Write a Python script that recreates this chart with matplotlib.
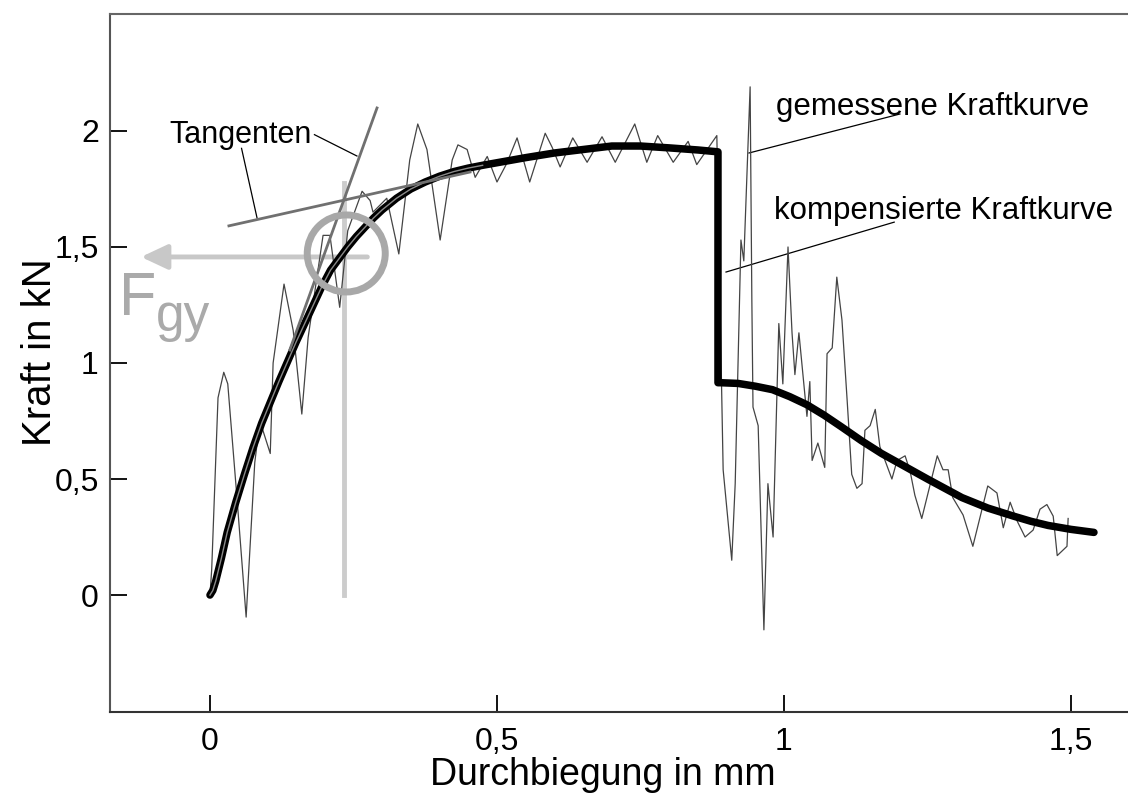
import matplotlib
matplotlib.use("Agg")
import matplotlib.pyplot as plt
from matplotlib.patches import Ellipse

plt.rcParams['font.family'] = ['Liberation Sans', 'DejaVu Sans']

# gemessene Kraftkurve (Rohsignal)
meas_x = [0.000, 0.003, 0.014, 0.024, 0.031, 0.047, 0.063, 0.078, 0.087, 0.105,
          0.110, 0.129, 0.145, 0.160, 0.171, 0.197, 0.209, 0.226, 0.240, 0.265,
          0.279, 0.284, 0.308, 0.329, 0.348, 0.362, 0.378, 0.401, 0.422, 0.432,
          0.448, 0.462, 0.483, 0.500, 0.517, 0.535, 0.557, 0.584, 0.596, 0.610,
          0.632, 0.657, 0.683, 0.706, 0.740, 0.761, 0.780, 0.807, 0.833, 0.848,
          0.883, 0.894, 0.909, 0.915, 0.925, 0.930, 0.941, 0.944, 0.946, 0.955,
          0.965, 0.972, 0.981, 0.991, 0.998, 1.007, 1.014, 1.019, 1.026, 1.040,
          1.045, 1.049, 1.059, 1.071, 1.075, 1.084, 1.092, 1.101, 1.110, 1.118,
          1.127, 1.136, 1.141, 1.150, 1.159, 1.167, 1.188, 1.197, 1.211, 1.220,
          1.228, 1.240, 1.267, 1.277, 1.286, 1.294, 1.312, 1.329, 1.341, 1.355,
          1.371, 1.382, 1.394, 1.406, 1.420, 1.434, 1.446, 1.458, 1.469, 1.476,
          1.493, 1.495]
meas_y = [0.00, 0.11, 0.85, 0.96, 0.91, 0.42, -0.095, 0.57, 0.75, 0.61,
          1.00, 1.34, 1.14, 0.78, 1.11, 1.55, 1.55, 1.24, 1.57, 1.74,
          1.70, 1.65, 1.71, 1.47, 1.875, 2.03, 1.92, 1.53, 1.875, 1.94,
          1.92, 1.80, 1.89, 1.78, 1.86, 1.97, 1.78, 1.99, 1.93, 1.845,
          1.97, 1.865, 1.975, 1.865, 2.03, 1.865, 1.98, 1.865, 1.955, 1.855,
          1.98, 0.54, 0.15, 0.48, 1.53, 1.44, 2.19, 1.27, 0.81, 0.73,
          -0.15, 0.48, 0.25, 1.17, 0.91, 1.50, 1.13, 0.95, 1.13, 0.77,
          0.92, 0.58, 0.655, 0.55, 1.04, 1.065, 1.37, 1.185, 0.84, 0.52,
          0.46, 0.48, 0.71, 0.73, 0.80, 0.64, 0.50, 0.58, 0.60, 0.53,
          0.43, 0.33, 0.60, 0.54, 0.54, 0.42, 0.345, 0.21, 0.33, 0.47,
          0.44, 0.29, 0.40, 0.32, 0.25, 0.28, 0.37, 0.39, 0.34, 0.17,
          0.21, 0.33]

# kompensierte Kraftkurve
comp_x = [0.0, 0.005, 0.01, 0.02, 0.03, 0.045, 0.06, 0.075, 0.09, 0.105, 0.12,
          0.135, 0.15, 0.165, 0.18, 0.195, 0.21, 0.225, 0.24, 0.255, 0.27, 0.285,
          0.30, 0.325, 0.35, 0.375, 0.40, 0.425, 0.45, 0.475, 0.50, 0.55, 0.60,
          0.65, 0.70, 0.75, 0.80, 0.85, 0.885,
          0.885, 0.89, 0.92, 0.95, 0.98, 1.01, 1.04, 1.07, 1.10, 1.135, 1.17,
          1.21, 1.25, 1.28, 1.31, 1.355, 1.40, 1.43, 1.46, 1.50, 1.54]
comp_y = [0.0, 0.02, 0.06, 0.16, 0.27, 0.40, 0.52, 0.635, 0.74, 0.83, 0.92,
          1.005, 1.09, 1.17, 1.25, 1.33, 1.40, 1.45, 1.50, 1.545, 1.585, 1.625,
          1.66, 1.71, 1.75, 1.78, 1.805, 1.825, 1.84, 1.852, 1.863, 1.885, 1.905,
          1.92, 1.935, 1.935, 1.927, 1.918, 1.91,
          0.915, 0.915, 0.912, 0.90, 0.885, 0.855, 0.82, 0.775, 0.725, 0.665, 0.61,
          0.555, 0.50, 0.46, 0.42, 0.375, 0.34, 0.318, 0.30, 0.283, 0.27]

xticks = [0, 0.5, 1, 1.5]
xtick_labels = ["0", "0,5", "1", "1,5"]
yticks = [0, 0.5, 1, 1.5, 2]
ytick_labels = ["0", "0,5", "1", "1,5", "2"]

# Tangenten (Anfang, Ende)
tang_steep = ([0.139, 0.291], [1.056, 2.099])
tang_flat = ([0.033, 0.453], [1.591, 1.823])

# Fließpunkt F_gy
fgy_x = 0.2334
fgy_y = 1.457


def draw():
    fig = plt.figure(figsize=(11.28, 7.95), dpi=100)
    ax = fig.add_axes([0.0975, 0.1044, 0.9025, 0.878])

    # Messkurve + kompensierte Kurve
    ax.plot(meas_x, meas_y, color="#444444", lw=0.9, zorder=3)
    ax.plot(comp_x, comp_y, color="black", lw=5.4, solid_joinstyle="round",
            solid_capstyle="round", zorder=4)
    ax.plot(comp_x[:30], comp_y[:30], color="#8a8a8a", lw=1.0, zorder=5)

    # Tangenten
    ax.plot(*tang_steep, color="#707070", lw=2.0, zorder=5)
    ax.plot(*tang_flat, color="#707070", lw=2.0, zorder=5)

    # F_gy markierung
    ax.plot([fgy_x, fgy_x], [0, 1.776], color="#cccccc", lw=3.5, zorder=2)
    ax.annotate("", xy=(-0.125, fgy_y), xytext=(0.279, fgy_y),
                arrowprops=dict(arrowstyle="-|>,head_length=1.6,head_width=0.75",
                                color="#c8c8c8", lw=3.5), zorder=2)
    ax.add_patch(Ellipse((fgy_x + 0.004, fgy_y + 0.015), 0.1359, 0.332,
                         fill=False, ec="#a8a8a8", lw=5, zorder=6))
    ax.text(-0.158, 1.207, "F", color="#aaaaaa", fontsize=44, ha="left",
            va="baseline")
    ax.text(-0.095, 1.14, "gy", color="#aaaaaa", fontsize=37, ha="left",
            va="baseline")

    # Beschriftungen mit Hinweislinien
    ax.text(-0.07, 1.95, "Tangenten", fontsize=22, ha="left", va="baseline")
    ax.plot([0.182, 0.256], [1.984, 1.892], color="black", lw=0.9)
    ax.plot([0.055, 0.082], [1.925, 1.625], color="black", lw=0.9)

    ax.text(0.986, 2.07, "gemessene Kraftkurve", fontsize=22.5, ha="left",
            va="baseline")
    ax.plot([0.939, 1.202], [1.905, 2.073], color="black", lw=0.9)
    ax.text(0.983, 1.62, "kompensierte Kraftkurve", fontsize=22.5, ha="left",
            va="baseline")
    ax.plot([0.899, 1.192], [1.392, 1.607], color="black", lw=0.9)

    ax.set_xlim(-0.1742, 1.5993)
    ax.set_ylim(-0.504, 2.504)
    ax.set_xticks(xticks)
    ax.set_xticklabels(xtick_labels)
    ax.set_yticks(yticks)
    ax.set_yticklabels(ytick_labels)
    ax.tick_params(direction="in", length=12, width=1.3, colors="black",
                   labelsize=23)
    ax.tick_params(axis="x", pad=11)
    ax.tick_params(axis="y", pad=8)

    ax.spines["right"].set_visible(False)
    ax.spines["left"].set_color("#555555")
    ax.spines["top"].set_color("#666666")
    ax.spines["bottom"].set_color("#333333")
    for s in ["left", "top", "bottom"]:
        ax.spines[s].set_linewidth(1.5)

    ax.set_xlabel("Durchbiegung in mm", fontsize=27)
    ax.set_ylabel("Kraft in kN", fontsize=29)
    ax.xaxis.set_label_coords(0.484, -0.064)
    ax.yaxis.set_label_coords(-0.05, 0.516)

    fig.savefig("out.png", dpi=100)


if __name__ == "__main__":
    draw()
